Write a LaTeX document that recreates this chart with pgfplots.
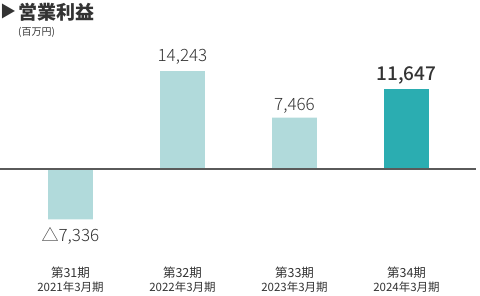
\documentclass[border=0pt]{standalone}
\usepackage{fontspec}
\setmainfont{Noto Sans CJK JP}
\newfontfamily\lightfont{Noto Sans CJK JP Light}
\newfontfamily\medfont{Noto Sans CJK JP Medium}
\usepackage{pgfplots}
\pgfplotsset{compat=1.18}
\definecolor{lt}{HTML}{B1DADB}
\definecolor{dk}{HTML}{2BADB1}
\definecolor{tx}{HTML}{333333}
\definecolor{bl}{HTML}{5A5A5A}
\begin{document}
\begin{tikzpicture}
\begin{axis}[at={(0,0)},anchor=south west, scale only axis, width=480pt, height=296pt,
  xmin=-0.629, xmax=3.656, ymin=-18490, ymax=24600, hide axis, clip=false]
\addplot[ybar, bar width=0.4, bar shift=0, fill=lt, draw=none] coordinates {(0,-7336) (1,14243) (2,7466)};
\addplot[ybar, bar width=0.4, bar shift=0, fill=dk, draw=none] coordinates {(3,11647)};
\draw[bl, line width=1.3pt] (axis cs:-0.629,0) -- (axis cs:3.62,0);
% value labels
\node[anchor=base, text=tx, font=\fontsize{17}{17}\lightfont] at (axis cs:1,15580) {14,243};
\node[anchor=base, text=tx, font=\fontsize{17}{17}\lightfont] at (axis cs:2,8445) {7,466};
\node[anchor=base, text=tx, font=\fontsize{19}{19}\medfont] at (axis cs:3,12813) {11,647};
\node[anchor=base, text=tx, font=\fontsize{17}{17}\lightfont] at (axis cs:0,-10629) {△7,336};
% categories
\node[anchor=base, text=tx, font=\fontsize{12.5}{12.5}\selectfont] at (axis cs:0,-15725) {第31期};
\node[anchor=base, text=tx, font=\fontsize{11.5}{11.5}\selectfont] at (axis cs:0,-17763) {2021年3月期};
\node[anchor=base, text=tx, font=\fontsize{12.5}{12.5}\selectfont] at (axis cs:1,-15725) {第32期};
\node[anchor=base, text=tx, font=\fontsize{11.5}{11.5}\selectfont] at (axis cs:1,-17763) {2022年3月期};
\node[anchor=base, text=tx, font=\fontsize{12.5}{12.5}\selectfont] at (axis cs:2,-15725) {第33期};
\node[anchor=base, text=tx, font=\fontsize{11.5}{11.5}\selectfont] at (axis cs:2,-17763) {2023年3月期};
\node[anchor=base, text=tx, font=\fontsize{12.5}{12.5}\selectfont] at (axis cs:3,-15725) {第34期};
\node[anchor=base, text=tx, font=\fontsize{11.5}{11.5}\selectfont] at (axis cs:3,-17763) {2024年3月期};
% title
\node[anchor=base west, inner sep=0pt, text=tx, font=\fontsize{16}{16}\selectfont] at (axis cs:-0.629,22000) {▶};
\node[anchor=base west, inner sep=0pt, text=tx, font=\fontsize{19}{19}\selectfont\bfseries] at (axis cs:-0.469,21800) {営業利益};
\node[anchor=base west, inner sep=0pt, text=tx, font=\fontsize{10}{10}\selectfont] at (axis cs:-0.469,19365) {(百万円)};
\end{axis}
\pgfresetboundingbox
\path[use as bounding box] (0,0) rectangle (480pt,296pt);
\end{tikzpicture}
\end{document}
